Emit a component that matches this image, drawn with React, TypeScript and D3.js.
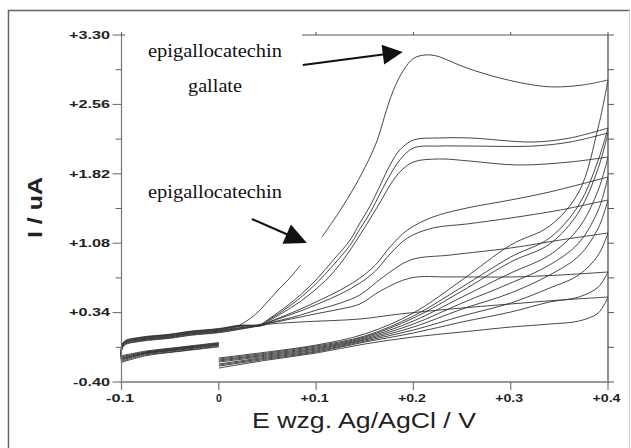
import React from "react";
import * as d3 from "d3";

// ---------- axis ticks ----------
const xTicks = [-0.1, 0, 0.1, 0.2, 0.3, 0.4];
const xTickLabels = ["-0.1", "0", "+0.1", "+0.2", "+0.3", "+0.4"];
const yTicks = [-0.4, 0.34, 1.08, 1.82, 2.56, 3.3];
const yTickLabels = ["-0.40", "+0.34", "+1.08", "+1.82", "+2.56", "+3.30"];
const yMinorTicks = [-0.03, 0.71, 1.45, 2.19, 2.93];

// ---------- initial cathodic sweep (0 V -> -0.1 V), one row per scan ----------
const cathodicE = [0, -0.025, -0.05, -0.075, -0.1];
const cathodicI = [
  [0.02, -0.01, -0.04, -0.07, -0.12],
  [0.01, -0.02, -0.05, -0.08, -0.14],
  [0.0, -0.03, -0.06, -0.09, -0.15],
  [0.015, -0.015, -0.045, -0.08, -0.13],
  [-0.01, -0.04, -0.07, -0.1, -0.16],
  [0.005, -0.025, -0.055, -0.09, -0.15],
  [-0.02, -0.05, -0.08, -0.11, -0.18],
  [-0.005, -0.035, -0.065, -0.095, -0.17],
  [-0.025, -0.055, -0.085, -0.12, -0.19],
];

// ---------- common anodic baseline (-0.1 V -> ~0.02 V) ----------
const baseE = [-0.1, -0.097, -0.08, -0.05, -0.029, 0, 0.022];
const baseI = [-0.048, 0.016, 0.058, 0.09, 0.122, 0.15, 0.186];
const baseShift = [0, 0.012, -0.01, 0.02, -0.018, 0.006, -0.024, 0.015, -0.006];

// ---------- anodic (forward) branches [E, I] ----------
const fwdEGCG: [number, number][] = [
  [0.015, 0.176], [0.027, 0.24], [0.038, 0.324], [0.048, 0.431], [0.06, 0.57],
  [0.074, 0.72], [0.084, 0.848], [0.092, NaN], [0.106, 1.146], [0.125, 1.434],
  [0.14, 1.69], [0.154, 1.967], [0.163, 2.18], [0.17, 2.42], [0.179, 2.7],
  [0.19, 2.927], [0.2, 3.05], [0.212, 3.087], [0.224, 3.076], [0.235, 3.033],
  [0.255, 2.948], [0.289, 2.841], [0.323, 2.767], [0.344, 2.746], [0.374, 2.767],
  [0.4, 2.82],
];
const fwdB: [number, number][] = [
  [0.043, 0.215], [0.05, 0.262], [0.066, 0.379], [0.084, 0.53], [0.101, 0.7],
  [0.118, 0.905], [0.135, 1.114], [0.145, 1.295], [0.156, 1.487], [0.166, 1.7],
  [0.176, 1.914], [0.186, 2.074], [0.2, 2.18], [0.227, 2.202], [0.258, 2.202],
  [0.323, 2.159], [0.361, 2.202], [0.4, 2.308],
];
const fwdC: [number, number][] = [
  [0.043, 0.212], [0.05, 0.255], [0.066, 0.36], [0.084, 0.5], [0.101, 0.66],
  [0.118, 0.85], [0.135, 1.061], [0.145, 1.231], [0.156, 1.413], [0.166, 1.615],
  [0.176, 1.807], [0.186, 1.967], [0.2, 2.095], [0.227, 2.116], [0.258, 2.116],
  [0.323, 2.116], [0.361, 2.159], [0.4, 2.255],
];
const fwdD: [number, number][] = [
  [0.043, 0.21], [0.05, 0.245], [0.066, 0.34], [0.084, 0.46], [0.101, 0.6],
  [0.118, 0.773], [0.135, 1.007], [0.145, 1.167], [0.156, 1.349], [0.166, 1.519],
  [0.176, 1.7], [0.186, 1.839], [0.2, 1.946], [0.227, 1.978], [0.258, 1.956],
  [0.307, 1.914], [0.361, 1.946], [0.4, 1.999],
];
const fwdE: [number, number][] = [
  [0.043, 0.207], [0.05, 0.235], [0.066, 0.3], [0.084, 0.378], [0.104, 0.474],
  [0.125, 0.581], [0.145, 0.709], [0.161, 0.848], [0.176, 1.04], [0.194, 1.221],
  [0.22, 1.359], [0.255, 1.455], [0.3, 1.541], [0.34, 1.626], [0.4, 1.786],
];
const fwdF: [number, number][] = [
  [0.043, 0.205], [0.05, 0.23], [0.066, 0.29], [0.084, 0.357], [0.104, 0.442],
  [0.125, 0.538], [0.145, 0.655], [0.161, 0.784], [0.176, 0.965], [0.194, 1.136],
  [0.22, 1.242], [0.255, 1.285], [0.3, 1.349], [0.351, 1.434], [0.4, 1.541],
];
const fwdG: [number, number][] = [
  [0.043, 0.203], [0.05, 0.225], [0.066, 0.265], [0.084, 0.314], [0.104, 0.378],
  [0.125, 0.442], [0.145, 0.528], [0.169, 0.72], [0.197, 0.901], [0.238, 0.954],
  [0.3, 1.029], [0.351, 1.114], [0.4, 1.189],
];
const fwdH: [number, number][] = [
  [0.043, 0.2], [0.05, 0.22], [0.066, 0.255], [0.084, 0.293], [0.104, 0.336],
  [0.125, 0.378], [0.145, 0.432], [0.166, 0.57], [0.197, 0.709], [0.238, 0.72],
  [0.3, 0.72], [0.351, 0.741], [0.4, 0.773],
];
const fwdI: [number, number][] = [
  [0.043, 0.198], [0.05, 0.215], [0.084, 0.24], [0.145, 0.272], [0.186, 0.325],
  [0.238, 0.378], [0.3, 0.432], [0.351, 0.474], [0.4, 0.506],
];

// ---------- cathodic (return) branches 0.4 V -> 0 V ----------
const returnE = [0.4, 0.39, 0.37, 0.34, 0.3, 0.25, 0.2, 0.15, 0.1, 0.05, 0.0];
const returnI = [
  [2.82, 2.319, 1.626, 1.263, 1.061, 0.688, 0.336, 0.112, -0.006, -0.08, -0.144],
  [2.308, 1.967, 1.487, 1.136, 0.933, 0.613, 0.304, 0.09, -0.016, -0.091, -0.155],
  [2.255, 1.882, 1.413, 1.071, 0.88, 0.57, 0.282, 0.08, -0.027, -0.102, -0.166],
  [1.999, 1.647, 1.242, 0.954, 0.762, 0.506, 0.25, 0.069, -0.038, -0.112, -0.176],
  [1.786, 1.434, 1.082, 0.848, 0.655, 0.442, 0.218, 0.058, -0.048, -0.123, -0.187],
  [1.541, 1.242, 0.943, 0.741, 0.549, 0.378, 0.186, 0.048, -0.059, -0.134, -0.208],
  [1.189, 0.954, 0.741, 0.602, 0.442, 0.304, 0.154, 0.037, -0.07, -0.144, -0.219],
  [0.773, 0.613, 0.506, 0.453, 0.346, 0.24, 0.122, 0.026, -0.08, -0.155, -0.23],
  [0.506, 0.336, 0.25, 0.218, 0.186, 0.133, 0.08, 0.005, -0.091, -0.166, -0.251],
];

const forwards = [fwdEGCG, fwdB, fwdC, fwdD, fwdE, fwdF, fwdG, fwdH, fwdI];

// ---------- annotation arrows (data coords: from -> tip) ----------
const arrowGallate: [number, number][] = [[0.0863, 2.98], [0.189, 3.119]];
const arrowEgc: [number, number][] = [[0.034, 1.338], [0.0905, 1.082]];

const SANS = "'Liberation Sans', Arial, Helvetica, sans-serif";
const SERIF = "'Liberation Serif', 'Times New Roman', serif";

export default function App() {
  const x = d3.scaleLinear().domain([-0.1, 0.4]).range([121.5, 608]);
  const y = d3.scaleLinear().domain([-0.4, 3.3]).range([382, 35]);
  const line = d3
    .line<[number, number]>()
    .defined((d) => !isNaN(d[1]))
    .x((d) => x(d[0]))
    .y((d) => y(d[1]))
    .curve(d3.curveCatmullRom.alpha(0.5));

  const paths: string[] = [];
  forwards.forEach((fwd, k) => {
    const cath: [number, number][] = cathodicE.map((e, i) => [e, cathodicI[k][i]]);
    paths.push(line(cath) || "");
    const firstE = fwd[0][0];
    const base: [number, number][] = baseE
      .map((e, i) => [e, baseI[i] + baseShift[k]] as [number, number])
      .filter((p) => p[0] < firstE - 0.005);
    const fwdPath: [number, number][] = [[-0.1, cathodicI[k][4]], ...base, ...fwd];
    paths.push(line(fwdPath) || "");
    const ret: [number, number][] = returnE.map((e, i) => [e, returnI[k][i]]);
    paths.push(line(ret) || "");
  });

  const arrow = (a: [number, number][], len: number, half: number) => {
    const x0 = x(a[0][0]), y0 = y(a[0][1]);
    const x1 = x(a[1][0]), y1 = y(a[1][1]);
    const dx = x1 - x0, dy = y1 - y0;
    const L = Math.hypot(dx, dy);
    const ux = dx / L, uy = dy / L;
    const bx = x1 - ux * len, by = y1 - uy * len;
    const px = -uy * half, py = ux * half;
    return (
      <g>
        <line x1={x0} y1={y0} x2={bx + ux * 2} y2={by + uy * 2} stroke="#111" strokeWidth={2} />
        <polygon points={`${x1},${y1} ${bx + px},${by + py} ${bx - px},${by - py}`} fill="#111" />
      </g>
    );
  };

  const xl = x(-0.1), xr = x(0.4), yt = y(3.3), yb = y(-0.4);

  return (
    <svg
      width={631}
      height={448}
      style={{ position: "absolute", left: 0, top: 0, display: "block", background: "#fff" }}
    >
      <rect x={0} y={0} width={631} height={448} fill="#fff" />
      {/* outer frame */}
      <line x1={8.5} y1={10} x2={8.5} y2={448} stroke="#666" strokeWidth={1.5} />
      <line x1={8} y1={10.5} x2={630} y2={10.5} stroke="#666" strokeWidth={1.5} />
      <line x1={629.5} y1={10} x2={629.5} y2={448} stroke="#ccc" strokeWidth={1} />

      {/* curves */}
      <g fill="none" stroke="#333" strokeWidth={0.9}>
        {paths.map((d, i) => (
          <path key={i} d={d} />
        ))}
      </g>

      {/* axes */}
      <line x1={xl} y1={yt} x2={xr} y2={yt} stroke="#555" strokeWidth={1} />
      <line x1={xl} y1={yt} x2={xl} y2={yb} stroke="#777" strokeWidth={1.2} />
      <line x1={xr} y1={yt} x2={xr} y2={yb} stroke="#444" strokeWidth={1.2} />
      <line x1={xl - 1} y1={yb} x2={xr + 1} y2={yb} stroke="#999" strokeWidth={2.2} />

      {/* top ticks */}
      {xTicks.map((t, i) => (
        <line key={"tt" + i} x1={x(t)} y1={yt} x2={x(t)} y2={yt - 3} stroke="#555" strokeWidth={1} />
      ))}
      {/* bottom ticks + labels */}
      {xTicks.map((t, i) => (
        <g key={"bt" + i}>
          <line x1={x(t)} y1={yb} x2={x(t)} y2={yb + 8} stroke="#777" strokeWidth={1.2} />
          <text
            x={x(t) - (xTickLabels[i] === "0" ? 0 : 1.5)}
            y={402}
            textAnchor="middle"
            fontFamily={SANS}
            fontWeight="bold"
            fontSize={10.5}
            fill="#222"
            {...(xTickLabels[i] === "0" ? {} : { textLength: 28, lengthAdjust: "spacingAndGlyphs" })}
          >
            {xTickLabels[i]}
          </text>
        </g>
      ))}
      {/* left ticks + labels */}
      {yTicks.map((t, i) => (
        <g key={"yt" + i}>
          <line x1={xl - 9} y1={y(t)} x2={xl} y2={y(t)} stroke="#666" strokeWidth={1} />
          <text
            x={110}
            y={y(t)}
            dy="0.36em"
            textAnchor="end"
            fontFamily={SANS}
            fontWeight="bold"
            fontSize={10.5}
            fill="#222"
            textLength={yTickLabels[i].startsWith("-") ? 37 : 41}
            lengthAdjust="spacingAndGlyphs"
          >
            {yTickLabels[i]}
          </text>
          <line x1={xr} y1={y(t)} x2={xr + 6} y2={y(t)} stroke="#555" strokeWidth={1} />
        </g>
      ))}
      {yMinorTicks.map((t, i) => (
        <g key={"ym" + i}>
          <line x1={xl - 6} y1={y(t)} x2={xl} y2={y(t)} stroke="#666" strokeWidth={1} />
          <line x1={xr} y1={y(t)} x2={xr + 6} y2={y(t)} stroke="#555" strokeWidth={1} />
        </g>
      ))}

      {/* label background hiding the top frame line */}
      <rect x={125} y={30} width={177} height={30} fill="#fff" />

      {/* annotations */}
      <text x={148} y={57} fontFamily={SERIF} fontSize={18} fill="#111" textLength={134} lengthAdjust="spacingAndGlyphs">
        epigallocatechin
      </text>
      <text x={188} y={92} fontFamily={SERIF} fontSize={18} fill="#111" textLength={54} lengthAdjust="spacingAndGlyphs">
        gallate
      </text>
      <text x={148} y={198} fontFamily={SERIF} fontSize={18} fill="#111" textLength={134} lengthAdjust="spacingAndGlyphs">
        epigallocatechin
      </text>
      {arrow(arrowGallate, 20, 10)}
      {arrow(arrowEgc, 22, 10.5)}

      {/* axis titles */}
      <text
        transform="translate(42,207.5) rotate(-90)"
        textAnchor="middle"
        fontFamily={SANS}
        fontWeight="bold"
        fontSize={20}
        fill="#222"
        textLength={61}
        lengthAdjust="spacingAndGlyphs"
      >
        I / uA
      </text>
      <text
        x={364}
        y={428}
        textAnchor="middle"
        fontFamily={SANS}
        fontSize={22}
        fill="#222"
        textLength={224}
        lengthAdjust="spacingAndGlyphs"
      >
        E wzg. Ag/AgCl / V
      </text>
    </svg>
  );
}
